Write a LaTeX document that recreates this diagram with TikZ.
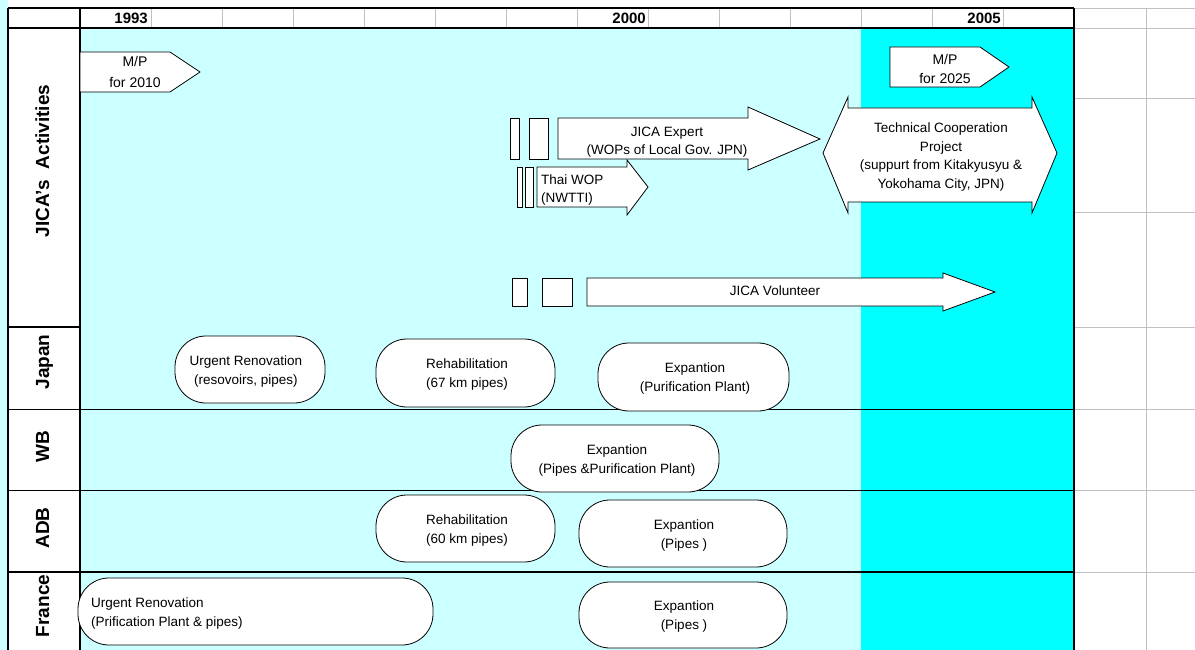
\documentclass[tikz,border=0pt]{standalone}
\usepackage{fontspec}
\setmainfont{Liberation Sans}
\definecolor{lightc}{HTML}{CCFFFF}
\definecolor{darkc}{HTML}{00FFFF}
\definecolor{gridgray}{HTML}{C0C0C0}
\tikzset{
  gridline/.style={draw=gridgray, line width=0.9pt},
  frameline/.style={draw=black, line width=1.4pt},
  thinline/.style={draw=black, line width=1pt},
  shapebox/.style={draw=black, fill=white, line width=0.8pt},
  pill/.style={shapebox, rounded corners=31pt},
  txt/.style={font=\fontsize{13.5}{19}\selectfont, align=center, inner sep=0pt},
  txtl/.style={font=\fontsize{13.5}{19}\selectfont, align=left, inner sep=0pt},
  rowlabel/.style={font=\bfseries\fontsize{19}{22}\selectfont, rotate=90, inner sep=0pt, anchor=base},
  yearlabel/.style={font=\bfseries\fontsize{15}{16}\selectfont, inner sep=0pt, anchor=base east},
}
\begin{document}
\begin{tikzpicture}[x=1pt,y=-1pt]
\useasboundingbox (0,0) rectangle (1195,650);
% background areas
\fill[white] (0,0) rectangle (1195,650);
\fill[lightc] (0,0) rectangle (8,650);
\fill[lightc] (80,28) rectangle (861,650);
\fill[darkc] (861,28) rectangle (1074,650);
% right-hand spreadsheet grid
\draw[gridline] (1146,8) -- (1146,650);
\foreach \yy in {8,28,98,212,327,409,490,572}
  \draw[gridline] (1074,\yy) -- (1195,\yy);
% header grid
\foreach \k in {0,...,12}
  \draw[gridline] (151+71*\k,8) -- (151+71*\k,28);
% frame
\draw[frameline] (8,8) -- (1074,8);
\draw[frameline] (8,8) -- (8,650);
\draw[frameline] (80,8) -- (80,650);
\draw[draw=black, line width=2pt] (8,28) -- (1074,28);
\draw[draw=black, line width=2pt] (1074,8) -- (1074,650);
\draw[frameline] (8,327) -- (80,327);
\draw[thinline] (8,409) -- (1074,409);
\draw[thinline] (8,490) -- (1074,490);
\draw[frameline] (8,572) -- (1074,572);
% years
\node[yearlabel] (y1993) at (148,24) {1993};
\node[yearlabel] (y2000) at (646,24) {2000};
\node[yearlabel] (y2005) at (1001,24) {2005};
% row labels
\node[rowlabel] (ljica) at (49,161) {JICA's\hspace{0.3em} Activities};
\node[rowlabel] (ljapan) at (49,362) {Japan};
\node[rowlabel] (lwb) at (49,447) {WB};
\node[rowlabel] (ladb) at (49,528) {ADB};
\node[rowlabel] (lfrance) at (49,606) {France};
% M/P arrows
\draw[shapebox] (80,52) -- (170,52) -- (200,72) -- (170,92) -- (80,92) -- cycle;
\node[txt, font=\fontsize{14}{21}\selectfont] (mp2010) at (135,72) {M/P\\for 2010};
\draw[shapebox] (890,47) -- (980,47) -- (1009,67) -- (980,87) -- (890,87) -- cycle;
\node[txt, font=\fontsize{14}{19}\selectfont] (mp2025) at (945,69) {M/P\\for 2025};
% JICA Expert
\draw[shapebox] (510,118) rectangle (519,159);
\draw[shapebox] (529,118) rectangle (548,159);
\draw[shapebox] (558,118) -- (748,118) -- (748,107) -- (820,139) -- (748,170) -- (748,159) -- (558,159) -- cycle;
\node[txt, font=\fontsize{13.5}{18}\selectfont] (expert) at (667,142) {JICA Expert\\(WOPs of Local Gov. JPN)};
% Thai WOP
\draw[shapebox] (517,167) rectangle (522,207);
\draw[shapebox] (525,167) rectangle (533,207);
\draw[shapebox] (537,167) -- (627,167) -- (627,160) -- (648,187) -- (627,215) -- (627,207) -- (537,207) -- cycle;
\node[txtl, font=\fontsize{13.5}{18}\selectfont, anchor=west] (thai) at (541,190) {Thai WOP\\(NWTTI)};
% Technical cooperation
\draw[shapebox] (823,153) -- (848,97) -- (848,108) -- (1032,108) -- (1032,97) -- (1057,153) -- (1032,213) -- (1032,202) -- (848,202) -- (848,213) -- cycle;
\node[txt, font=\fontsize{13.5}{18.7}\selectfont] (tcp) at (941,157) {Technical Cooperation\\Project\\(suppurt from Kitakyusyu \&\\Yokohama City, JPN)};
% JICA Volunteer
\draw[shapebox] (512,278) rectangle (527,306);
\draw[shapebox] (542,278) rectangle (572,306);
\draw[shapebox] (587,278) -- (943,278) -- (943,273) -- (995,292) -- (943,311) -- (943,306) -- (587,306) -- cycle;
\node[txt] (vol) at (775,291) {JICA Volunteer};
% Japan row
\draw[pill] (175,336) rectangle (325,403);
\node[txt] (jurg) at (246,372) {Urgent Renovation\\(resovoirs, pipes)};
\draw[pill] (376,339) rectangle (555,407);
\node[txt] (jreh) at (467,375) {Rehabilitation\\(67 km pipes)};
\draw[pill] (598,343) rectangle (789,411);
\node[txt] (jexp) at (695,379) {Expantion\\(Purification Plant)};
% WB row
\draw[pill] (511,425) rectangle (719,492);
\node[txt] (wbexp) at (617,461) {Expantion\\(Pipes \&Purification Plant)};
% ADB row
\draw[pill] (376,495) rectangle (555,562);
\node[txt] (adbreh) at (467,531) {Rehabilitation\\(60 km pipes)};
\draw[pill] (579,500) rectangle (787,567);
\node[txt] (adbexp) at (684,536) {Expantion\\(Pipes )};
% France row
\draw[pill] (78,578) rectangle (433,645);
\node[txtl, anchor=west] (frurg) at (91,614) {Urgent Renovation\\(Prification Plant \& pipes)};
\draw[pill] (579,582) rectangle (787,648);
\node[txt] (frexp) at (684,617) {Expantion\\(Pipes )};
\end{tikzpicture}
\end{document}
